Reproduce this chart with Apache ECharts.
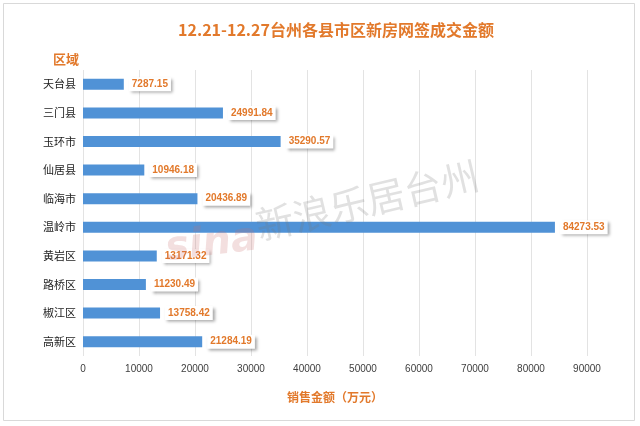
<!DOCTYPE html>
<html><head><meta charset="utf-8">
<script src="https://cdn.jsdelivr.net/npm/echarts@6/dist/echarts.min.js"></script>
<style>html,body{margin:0;padding:0;background:#fff}#c{width:640px;height:426px}</style>
</head><body><div id="c"></div>
<script>
const categories = ['天台县','三门县','玉环市','仙居县','临海市','温岭市','黄岩区','路桥区','椒江区','高新区'];
const values = [7287.15, 24991.84, 35290.57, 10946.18, 20436.89, 84273.53, 13171.32, 11230.49, 13758.42, 21284.19];
const xTicks = [0, 10000, 20000, 30000, 40000, 50000, 60000, 70000, 80000, 90000];
const titleText = '12.21-12.27台州各县市区新房网签成交金额';
const orange = '#E2792B';
const blue = '#5092D6';
const chart = echarts.init(document.getElementById('c'));
chart.setOption({
  backgroundColor: '#fff',
  animation: false,
  title: {
    text: titleText, left: 331, top: 17, textAlign: 'center',
    textStyle: {color: orange, fontSize: 16, fontWeight: 'bold', fontFamily: '"Noto Sans CJK SC", sans-serif'}
  },
  graphic: [
    {type: 'rect', shape: {x: 3.5, y: 3.5, width: 631, height: 417}, style: {fill: 'none', stroke: '#d9d9d9', lineWidth: 1}, z: -1},
    {type: 'text', left: 53, top: 53, style: {text: '区域', fill: orange, font: 'bold 13px "Noto Sans CJK SC"'}},
    {type: 'text', x: 252, y: 208, rotation: 0.23, style: {text: '新浪乐居台州', fill: 'rgba(120,120,120,0.22)', font: '38px "Noto Sans CJK SC"'}, z: 10},
    {type: 'text', x: 163, y: 230, rotation: 0.12, style: {text: 'sina', fill: 'rgba(200,110,110,0.22)', font: 'italic bold 40px "DejaVu Sans"'}, z: 10}
  ],
  grid: {left: 83, right: 53, top: 70, height: 286, containLabel: false},
  xAxis: {
    type: 'value', min: xTicks[0], max: xTicks[xTicks.length - 1], interval: xTicks[1] - xTicks[0],
    name: '销售金额（万元）', nameLocation: 'middle', nameGap: 35,
    nameTextStyle: {color: orange, fontSize: 12, fontWeight: 'bold', fontFamily: '"Noto Sans CJK SC"'},
    axisLine: {show: false}, axisTick: {show: false},
    axisLabel: {color: '#404040', fontSize: 10, margin: 8, fontFamily: '"Liberation Sans", sans-serif', formatter: v => String(v)},
    splitLine: {show: true, lineStyle: {color: '#e3e3e3', width: 1}}
  },
  yAxis: {
    type: 'category', data: categories, inverse: true,
    axisLine: {show: false}, axisTick: {show: false},
    axisLabel: {color: '#222', fontSize: 11, margin: 7, fontFamily: '"Noto Sans CJK SC"'},
    splitLine: {show: false}
  },
  series: [{
    type: 'bar', data: values, barWidth: 11,
    itemStyle: {color: blue},
    label: {
      show: true, position: 'right', distance: 5,
      formatter: p => p.value.toFixed(2),
      color: orange, fontSize: 10, fontWeight: 'bold', fontFamily: '"Liberation Sans", sans-serif',
      backgroundColor: '#fff', padding: [2, 3, 2, 3],
      shadowColor: 'rgba(0,0,0,0.35)', shadowBlur: 3, shadowOffsetX: 2, shadowOffsetY: 2
    }
  }]
});
</script></body></html>
